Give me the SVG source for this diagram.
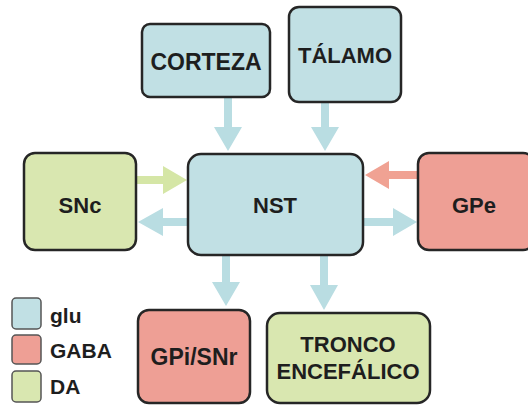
<svg xmlns="http://www.w3.org/2000/svg" width="528" height="405" viewBox="0 0 528 405">
  <defs>
    <style>
      .node { stroke: #262626; stroke-width: 2.5; }
      .glu { fill: #c1e0e4; }
      .gaba { fill: #ee9f95; }
      .da { fill: #d9e7b0; }
      .lbl { font-family: "Liberation Sans", Arial, sans-serif; font-weight: bold; font-size: 22px; fill: #1e1e1e; text-anchor: middle; }
      .leg { font-family: "Liberation Sans", Arial, sans-serif; font-weight: bold; font-size: 21px; fill: #1e1e1e; }
      .key { stroke: #555; stroke-width: 1.5; }
      .a-glu { fill: #b9dde2; }
      .a-gaba { fill: #f0a293; }
      .a-da { fill: #d5e6a6; }
    </style>
  </defs>

  <!-- connectors: block arrows (shaft 8px, head 28px wide) -->
  <g id="connectors">
    <!-- CORTEZA -> NST -->
    <path class="a-glu" d="M224,98 H232 V127 H242 L228,151 L214,127 H224 Z"/>
    <!-- TALAMO -> NST -->
    <path class="a-glu" d="M321,103 H329 V127 H339 L325,151 L311,127 H321 Z"/>
    <!-- SNc -> NST -->
    <path class="a-da" d="M137,176 H163 V166 L187,180 L163,194 V184 H137 Z"/>
    <!-- NST -> SNc -->
    <path class="a-glu" d="M187,218 H163 V208 L138,222 L163,236 V226 H187 Z"/>
    <!-- GPe -> NST -->
    <path class="a-gaba" d="M417,171 H389 V161 L365,175 L389,189 V179 H417 Z"/>
    <!-- NST -> GPe -->
    <path class="a-glu" d="M364,218 H393 V208 L417,222 L393,236 V226 H364 Z"/>
    <!-- NST -> GPi/SNr -->
    <path class="a-glu" d="M222,256 H230 V282 H240 L226,306 L212,282 H222 Z"/>
    <!-- NST -> TRONCO -->
    <path class="a-glu" d="M320,256 H328 V285 H338 L324,310 L310,285 H320 Z"/>
  </g>

  <g id="corteza">
    <rect class="node glu" x="142" y="24" width="128" height="73" rx="8"/>
    <text class="lbl" x="206" y="70" style="font-size:23px">CORTEZA</text>
  </g>

  <g id="talamo">
    <rect class="node glu" x="289" y="7" width="112" height="95" rx="10"/>
    <text class="lbl" x="345" y="63">TÁLAMO</text>
  </g>

  <g id="snc">
    <rect class="node da" x="24" y="153" width="112" height="97" rx="11"/>
    <text class="lbl" x="80" y="213">SNc</text>
  </g>

  <g id="nst">
    <rect class="node glu" x="188" y="154" width="175" height="101" rx="13"/>
    <text class="lbl" x="275" y="213">NST</text>
  </g>

  <g id="gpe">
    <rect class="node gaba" x="418" y="153" width="116" height="97" rx="11"/>
    <text class="lbl" x="474" y="213">GPe</text>
  </g>

  <g id="gpi-snr">
    <rect class="node gaba" x="138" y="310" width="112" height="93" rx="11"/>
    <text class="lbl" x="194" y="365" style="font-size:23px">GPi/SNr</text>
  </g>

  <g id="tronco">
    <rect class="node da" x="267" y="313" width="163" height="90" rx="13"/>
    <text class="lbl" x="348" y="352">TRONCO</text>
    <text class="lbl" x="348" y="379">ENCEFÁLICO</text>
  </g>

  <!-- legend -->
  <g id="legend">
    <rect class="key glu" x="12" y="298" width="29" height="31" rx="4"/>
    <text class="leg" x="50" y="323">glu</text>
    <rect class="key gaba" x="12" y="335" width="29" height="29" rx="4"/>
    <text class="leg" x="50" y="358">GABA</text>
    <rect class="key da" x="12" y="371" width="29" height="31" rx="4"/>
    <text class="leg" x="50" y="394">DA</text>
  </g>
</svg>
